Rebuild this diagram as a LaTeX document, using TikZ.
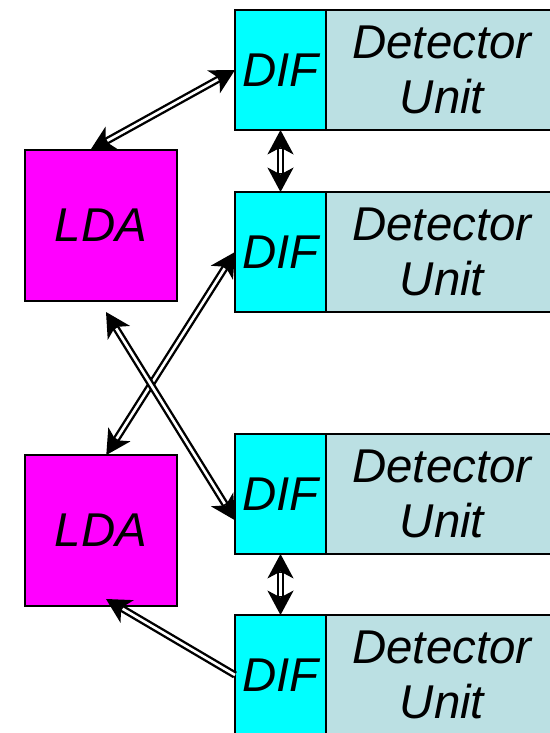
\documentclass[tikz,border=0pt]{standalone}
\usepackage{fontspec}
\setmainfont{Liberation Sans}
\usetikzlibrary{arrows.meta,positioning}

\definecolor{unitblue}{RGB}{187,224,227}
\definecolor{difcyan}{RGB}{0,255,255}
\definecolor{ldamagenta}{RGB}{255,0,255}

\tikzset{
  box/.style={draw, line width=1.3pt, inner sep=0pt, outer sep=0pt,
    font=\fontsize{27}{31}\selectfont\itshape},
  dif/.style={box, fill=difcyan, minimum width=1.82cm, minimum height=2.4cm},
  detunit/.style={box, fill=unitblue, minimum width=4.64cm, minimum height=2.4cm, align=center},
  lda/.style={box, fill=ldamagenta, minimum width=3.04cm, minimum height=3.02cm},
  head/.tip={Stealth[length=14pt, width=15pt, inset=4pt, line width=0pt]},
  link/.style={line width=4.2pt},
  twoway/.style={link, head-head,
    postaction={draw, white, line width=1.5pt, -, shorten <=11pt, shorten >=11pt}},
  oneway/.style={link, -head,
    postaction={draw, white, line width=1.5pt, -, shorten >=11pt}}
}

\begin{document}
\begin{tikzpicture}[x=0.02cm, y=-0.02cm]
  \clip (0,0) rectangle (550,733);

  % detector units with their DIFs
  \node[dif] (dif1) at (280.5,70) {DIF};
  \node[detunit, right=0pt of dif1] (unit1) {Detector\\Unit};
  \node[dif] (dif2) at (280.5,252) {DIF};
  \node[detunit, right=0pt of dif2] (unit2) {Detector\\Unit};
  \node[dif] (dif3) at (280.5,494) {DIF};
  \node[detunit, right=0pt of dif3] (unit3) {Detector\\Unit};
  \node[dif] (dif4) at (280.5,675) {DIF};
  \node[detunit, right=0pt of dif4] (unit4) {Detector\\Unit};

  % LDAs
  \node[lda] (lda1) at (101,225.5) {LDA};
  \node[lda] (lda2) at (101,530.5) {LDA};

  \coordinate (lda1low) at (106,312);
  \coordinate (lda2low) at (106,599);

  % links
  \draw[twoway] (lda1.98) -- (dif1.west);
  \draw[twoway] (dif1.south) -- (dif2.north);
  \draw[twoway] (lda2.86) -- (dif2.west);
  \draw[twoway] (lda1low) -- (dif3.210);
  \draw[twoway] (dif3.south) -- (dif4.north);
  \draw[oneway] (dif4.west) -- (lda2low);
\end{tikzpicture}
\end{document}
